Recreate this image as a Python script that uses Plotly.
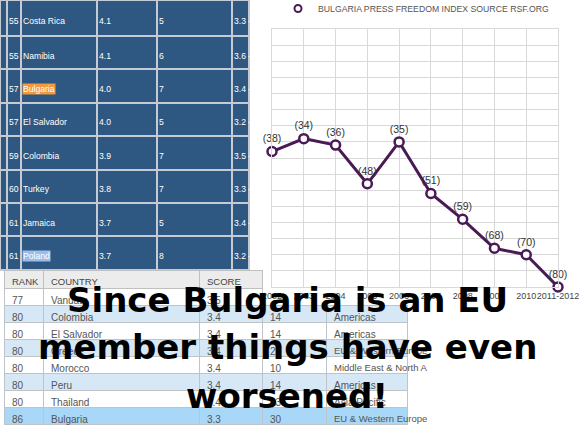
import plotly.graph_objects as go

W, H = 580, 425

# dark table (top left)
top_rank = ["55", "55", "57", "57", "59", "60", "61", "61"]
top_country = ["Costa Rica", "Namibia", "Bulgaria", "El Salvador", "Colombia", "Turkey", "Jamaica", "Poland"]
top_score = ["4.1", "4.1", "4.0", "4.0", "3.9", "3.8", "3.7", "3.7"]
top_surveys = ["5", "6", "7", "5", "7", "7", "5", "8"]
top_range = ["3.3 -", "3.6 -", "3.4 -", "3.2 -", "3.5 -", "3.3 -", "3.4 -", "3.2 -"]
top_selected = {"Bulgaria": "#f29a3f", "Poland": "#9dbde9"}

# light table (bottom left)
bot_header = ["RANK", "COUNTRY", "SCORE", "", ""]
bot_rank = ["77", "80", "80", "80", "80", "80", "80", "86"]
bot_country = ["Vanuatu", "Colombia", "El Salvador", "Greece", "Morocco", "Peru", "Thailand", "Bulgaria"]
bot_score = ["3.5", "3.4", "3.4", "3.4", "3.4", "3.4", "3.4", "3.3"]
bot_col4 = ["", "14", "14", "29", "10", "14", "13", "30"]
bot_region = ["", "Americas", "Americas", "EU & Western Europe", "Middle East & North A",
              "Americas", "Asia Pacific", "EU & Western Europe"]

# press freedom chart
years = ["2002", "2003", "2004", "2005", "2006", "2007", "2008", "2009", "2010", "2011-2012"]
rsf_rank = [38, 34, 36, 48, 35, 51, 59, 68, 70, 80]

caption = ["Since Bulgaria is an EU", "member things have even", "worsened!"]

DARK = "#2e5782"
PURPLE = "#4a1a55"
CLEAR = "rgba(0,0,0,0)"
CELL_PAD = 8  # plotly's fixed table cell padding


def dom_x(x0, x1):
    return [x0 / W, x1 / W]


def dom_y(top, bottom):
    return [1 - bottom / H, 1 - top / H]


def nb(s):
    # no-break spaces keep plotly from wrapping the cell text
    return s.replace(" ", "\u00a0")


fig = go.Figure()

# chart
fig.add_trace(go.Scatter(
    x=years, y=rsf_rank,
    mode="lines+markers+text",
    text=[f"({r})" for r in rsf_rank],
    textposition="top center",
    textfont=dict(size=10.5, color="#333333", family="Liberation Sans, Arial"),
    line=dict(color=PURPLE, width=3),
    marker=dict(size=9, color="white", line=dict(color=PURPLE, width=2.5)),
    cliponaxis=False,
    showlegend=False,
))
fig.add_trace(go.Scatter(
    x=[None], y=[None],
    mode="markers",
    name="BULGARIA PRESS FREEDOM INDEX SOURCE RSF.ORG",
    marker=dict(size=7, color="white", line=dict(color=PURPLE, width=2)),
))

# dark table: the grid comes from go.Table; its text is set as annotations because
# plotly pins table text to the top of a cell and these rows are tall
top_widths = [7, 14, 76, 60, 75, 17]
top_head_h, top_row_h = 36, 33.4
top_cols = [top_rank, top_country, top_score, top_surveys, top_range]
n_top = len(top_rank)
fig.add_trace(go.Table(
    domain=dict(x=dom_x(0, sum(top_widths)), y=dom_y(0, 271)),
    columnwidth=top_widths,
    header=dict(values=[""] * len(top_widths), height=top_head_h, fill_color=DARK,
                line=dict(color="#c5cbd2", width=2)),
    cells=dict(values=[[""] * (n_top - 1)] * len(top_widths), height=top_row_h, fill_color=DARK,
               line=dict(color="#c5cbd2", width=2)),
))

col_left = [sum(top_widths[:j + 1]) for j in range(len(top_cols))]
for i in range(n_top):
    if i == 0:
        yc = top_head_h / 2 + 3
    else:
        yc = top_head_h + (i - 0.5) * top_row_h + 3
    for j, col in enumerate(top_cols):
        v = col[i]
        fig.add_annotation(
            text=v, xref="paper", yref="paper",
            x=(col_left[j] + 1) / W, y=1 - yc / H,
            xanchor="left", yanchor="middle", showarrow=False, borderpad=0,
            bgcolor=top_selected.get(v, CLEAR),
            font=dict(size=8.6, color="white", family="Liberation Sans, Arial"),
        )

# light table
bot_widths = [39, 156, 63, 64, 81]
bot_left, bot_top, bot_head_h, bot_row_h = 4, 270, 18, 17.1
row_fill = ["white", "#d6e8f6"] * 3 + ["white", "#a8d7f7"]
# plotly grows a table row when a value holds "&", so those cells get an annotation instead
bot_cols = [bot_rank, bot_country, bot_score, bot_col4,
            ["" if "&" in r else r for r in bot_region]]
fills, lines = [], []
for j in range(len(bot_cols)):
    f = list(row_fill)
    ln = ["#bfc4c8"] * len(row_fill)
    if j >= 3:
        f[0] = CLEAR
        ln[0] = CLEAR
    fills.append(f)
    lines.append(ln)

narrow = "Liberation Sans Narrow, Liberation Sans, Arial"
fig.add_trace(go.Table(
    domain=dict(x=dom_x(bot_left, bot_left + sum(bot_widths)), y=dom_y(bot_top, H)),
    columnwidth=bot_widths,
    header=dict(
        values=bot_header, height=bot_head_h, align="left",
        fill_color=["#ececec"] * 3 + [CLEAR] * 2,
        line=dict(color=["#c0c0c0"] * 3 + [CLEAR] * 2, width=1),
        font=dict(size=9.5, color="#444444", family=narrow),
    ),
    cells=dict(
        values=[[nb(v) for v in c] for c in bot_cols], height=bot_row_h, align="left",
        fill_color=fills, line=dict(color=lines, width=1),
        font=dict(size=10, color="#555555", family=narrow),
    ),
))

region_x = bot_left + sum(bot_widths[:4]) + CELL_PAD - 1
for i, r in enumerate(bot_region):
    if "&" in r:
        fig.add_annotation(
            text=r, xref="paper", yref="paper",
            x=region_x / W, y=1 - (bot_top + bot_head_h + i * bot_row_h + 11) / H,
            xanchor="left", yanchor="middle", showarrow=False, borderpad=0,
            font=dict(size=9.5, color="#555555", family=narrow),
        )

# meme caption
caption_y = [300, 347, 396]
for txt, yc in zip(caption, caption_y):
    fig.add_annotation(
        text=txt, xref="paper", yref="paper",
        x=287 / W, y=1 - yc / H, xanchor="center", yanchor="middle",
        showarrow=False,
        font=dict(size=34, color="black", family="DejaVu Sans", weight="bold"),
    )

grid = "#d9d9d9"
fig.update_layout(
    width=W, height=H,
    margin=dict(l=0, r=0, t=0, b=0, autoexpand=False),
    paper_bgcolor="white",
    plot_bgcolor="white",
    font=dict(family="Liberation Sans, Arial", color="#444444"),
    xaxis=dict(
        domain=dom_x(272, 558), type="category", range=[0, 9],
        showgrid=True, gridcolor=grid, gridwidth=1,
        showline=True, linecolor=grid, mirror=True,
        ticks="", tickangle=0, tickfont=dict(size=9, color="#444444"),
        zeroline=False, automargin=False,
    ),
    yaxis=dict(
        domain=dom_y(29, 287), range=[80, 0], dtick=5,
        showgrid=True, gridcolor=grid, gridwidth=1,
        showline=True, linecolor=grid, mirror=True,
        showticklabels=False, ticks="", zeroline=False, automargin=False,
    ),
    showlegend=True,
    legend=dict(
        orientation="h", x=278 / W, y=1 + 6 / H, xanchor="left", yanchor="top",
        font=dict(size=8.7, color="#555555"), bgcolor=CLEAR,
    ),
)

# drop the page's default 8px body margin so the figure sits at the window's corner
fig.write_html("out.html", config={"displayModeBar": False},
               post_script="document.body.style.margin = '0';")
